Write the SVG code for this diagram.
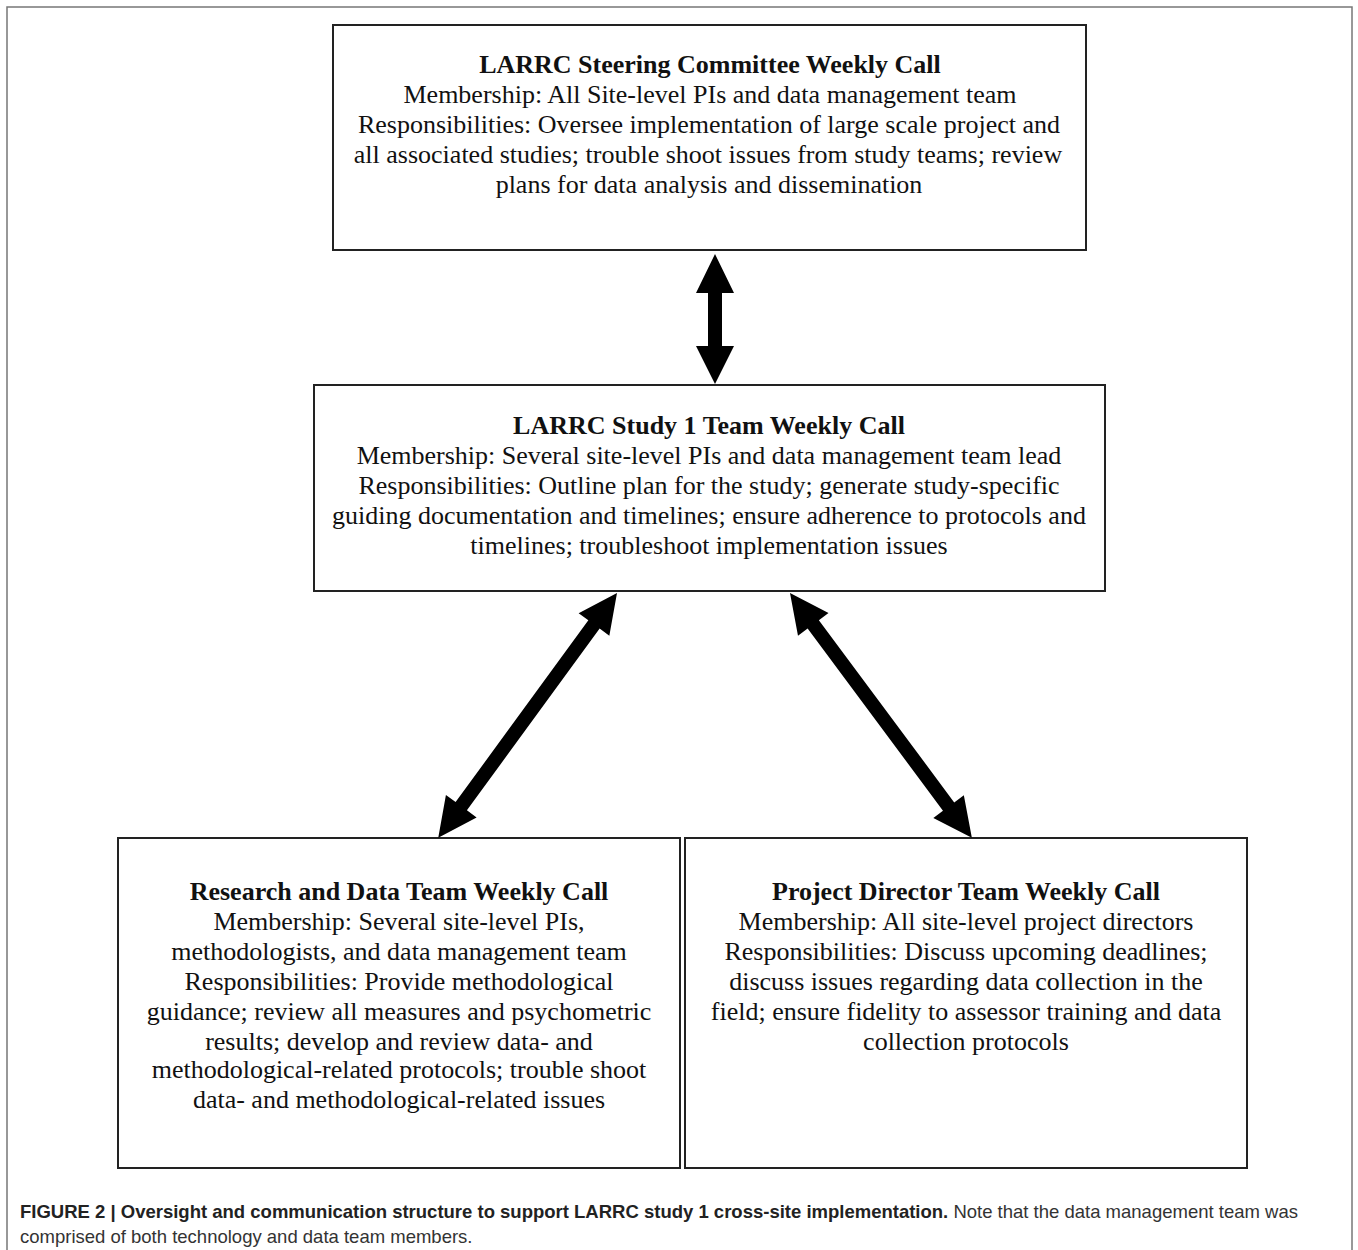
<svg xmlns="http://www.w3.org/2000/svg" width="1358" height="1250" viewBox="0 0 1358 1250">
<style>
.box{fill:#fff;stroke:#222;stroke-width:2}
.t{font-family:"Liberation Serif","Times New Roman",serif;font-size:26px;fill:#111;text-anchor:middle}
.b{font-weight:bold}
.cap{font-family:"Liberation Sans",Arial,sans-serif;font-size:18.5px;fill:#333}
.arrow{fill:#000}
</style>
<rect x="0" y="0" width="1358" height="1250" fill="#fff"/>
<rect x="7" y="7" width="1345" height="1250" fill="none" stroke="#777" stroke-width="1.5"/>
<g id="n1">
<rect class="box" x="333" y="25" width="753" height="225"/>
<text class="t b" x="710" y="73">LARRC Steering Committee Weekly Call</text>
<text class="t" x="710" y="103">Membership: All Site-level PIs and data management team</text>
<text class="t" x="709" y="133">Responsibilities: Oversee implementation of large scale project and</text>
<text class="t" x="708" y="163">all associated studies; trouble shoot issues from study teams; review</text>
<text class="t" x="709" y="193">plans for data analysis and dissemination</text>
</g>
<g id="n2">
<rect class="box" x="314" y="385" width="791" height="206"/>
<text class="t b" x="709" y="434">LARRC Study 1 Team Weekly Call</text>
<text class="t" x="709" y="464">Membership: Several site-level PIs and data management team lead</text>
<text class="t" x="709" y="494">Responsibilities: Outline plan for the study; generate study-specific</text>
<text class="t" x="709" y="524">guiding documentation and timelines; ensure adherence to protocols and</text>
<text class="t" x="709" y="554">timelines; troubleshoot implementation issues</text>
</g>
<g id="n3">
<rect class="box" x="118" y="838" width="562" height="330"/>
<text class="t b" x="399" y="900">Research and Data Team Weekly Call</text>
<text class="t" x="399" y="930">Membership: Several site-level PIs,</text>
<text class="t" x="399" y="960">methodologists, and data management team</text>
<text class="t" x="399" y="990">Responsibilities: Provide methodological</text>
<text class="t" x="399" y="1020">guidance; review all measures and psychometric</text>
<text class="t" x="399" y="1050">results; develop and review data- and</text>
<text class="t" x="399" y="1078">methodological-related protocols; trouble shoot</text>
<text class="t" x="399" y="1108">data- and methodological-related issues</text>
</g>
<g id="n4">
<rect class="box" x="685" y="838" width="562" height="330"/>
<text class="t b" x="966" y="900">Project Director Team Weekly Call</text>
<text class="t" x="966" y="930">Membership: All site-level project directors</text>
<text class="t" x="966" y="960">Responsibilities: Discuss upcoming deadlines;</text>
<text class="t" x="966" y="990">discuss issues regarding data collection in the</text>
<text class="t" x="966" y="1020">field; ensure fidelity to assessor training and data</text>
<text class="t" x="966" y="1050">collection protocols</text>
</g>
<g id="connectors">
<polygon class="arrow" points="715,254 734,293 722,293 722,346 734,346 715,384 696,346 708,346 708,293 696,293"/>
<g transform="translate(617,593) rotate(126.15)">
<polygon class="arrow" points="0,0 39,-19 39,-7 264,-7 264,-19 303,0 264,19 264,7 39,7 39,19"/>
</g>
<g transform="translate(790,593) rotate(53.4)">
<polygon class="arrow" points="0,0 39,-19 39,-7 266,-7 266,-19 305,0 266,19 266,7 39,7 39,19"/>
</g>
</g>
<text class="cap" x="20" y="1218"><tspan font-weight="bold" fill="#222">FIGURE 2 | Oversight and communication structure to support LARRC study 1 cross-site implementation.</tspan> Note that the data management team was</text>
<text class="cap" x="20" y="1243">comprised of both technology and data team members.</text>
</svg>
